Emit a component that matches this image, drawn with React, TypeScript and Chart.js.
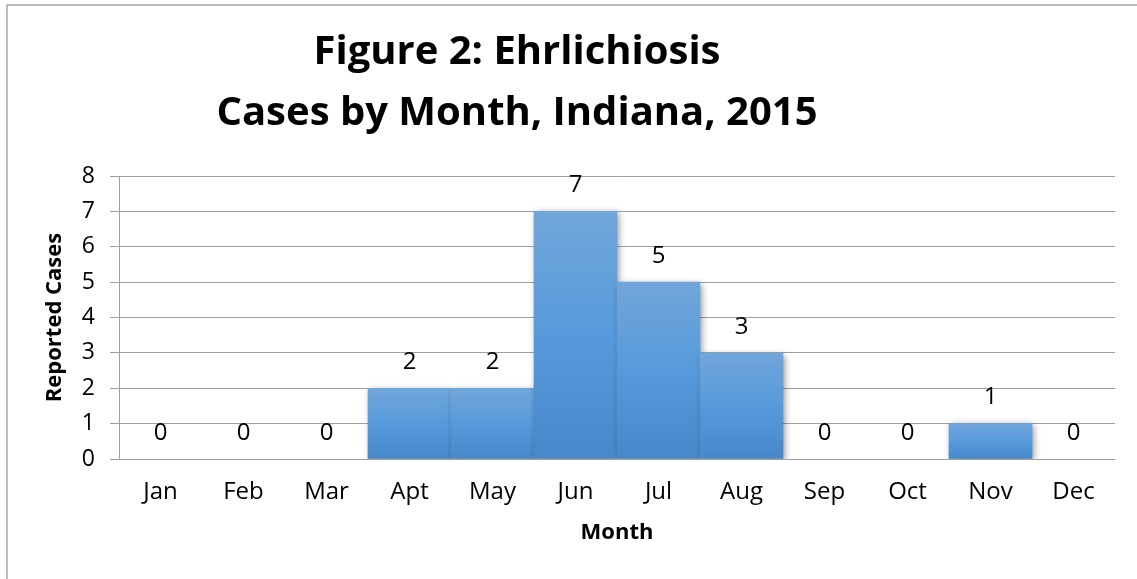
import React, { useEffect, useRef } from 'react';
import { Chart, registerables } from 'chart.js';

Chart.register(...registerables);

const months = ['Jan', 'Feb', 'Mar', 'Apt', 'May', 'Jun', 'Jul', 'Aug', 'Sep', 'Oct', 'Nov', 'Dec'];
const cases = [0, 0, 0, 2, 2, 7, 5, 3, 0, 0, 1, 0];
const yMin = 0;
const yMax = 8;
const yStep = 1;
const titleLines = ['Figure 2: Ehrlichiosis', 'Cases by Month, Indiana, 2015'];
const xTitle = 'Month';
const yTitle = 'Reported Cases';

const FONT = "'Open Sans', sans-serif";
const W = 1137;
const H = 579;

const framePlugin = {
  id: 'frame',
  beforeDraw(chart: any) {
    const { ctx } = chart;
    ctx.save();
    ctx.fillStyle = '#ffffff';
    ctx.fillRect(0, 0, chart.width, chart.height);
    ctx.strokeStyle = '#a6a6a6';
    ctx.lineWidth = 1.5;
    ctx.strokeRect(7, 5, chart.width + 50, chart.height + 50);
    ctx.restore();
  },
};

const titlePlugin = {
  id: 'customTitle',
  afterDraw(chart: any) {
    const { ctx } = chart;
    ctx.save();
    ctx.fillStyle = '#000000';
    ctx.font = `bold 40px ${FONT}`;
    ctx.textAlign = 'center';
    ctx.textBaseline = 'alphabetic';
    ctx.fillText(titleLines[0], 517, 64);
    ctx.fillText(titleLines[1], 517, 125);
    ctx.restore();
  },
};

const shadowPlugin = {
  id: 'barShadow',
  beforeDatasetsDraw(chart: any) {
    const { ctx } = chart;
    ctx.save();
    ctx.shadowColor = 'rgba(0,0,0,0.45)';
    ctx.shadowBlur = 7;
    ctx.shadowOffsetX = 2;
    ctx.shadowOffsetY = 2;
  },
  afterDatasetsDraw(chart: any) {
    chart.ctx.restore();
  },
};

const valueLabelPlugin = {
  id: 'valueLabels',
  afterDraw(chart: any) {
    const { ctx } = chart;
    const meta = chart.getDatasetMeta(0);
    ctx.save();
    ctx.fillStyle = '#000000';
    ctx.font = `24px ${FONT}`;
    ctx.textAlign = 'center';
    ctx.textBaseline = 'middle';
    meta.data.forEach((bar: any, i: number) => {
      ctx.fillText(String(cases[i]), bar.x, bar.y - 26);
    });
    ctx.restore();
  },
};

export default function App() {
  const canvasRef = useRef<HTMLCanvasElement | null>(null);

  useEffect(() => {
    if (!canvasRef.current) return;
    const chart = new Chart(canvasRef.current, {
      type: 'bar',
      data: {
        labels: months,
        datasets: [
          {
            label: yTitle,
            data: cases,
            categoryPercentage: 1,
            barPercentage: 1,
            borderWidth: 0,
            backgroundColor: (c: any) => {
              const ch = c.chart;
              if (!ch.chartArea || c.type !== 'data') return '#5b9bd5';
              const v = c.raw as number;
              if (!v) return 'rgba(0,0,0,0)';
              const top = ch.scales.y.getPixelForValue(v);
              const base = ch.scales.y.getPixelForValue(0);
              const g = ch.ctx.createLinearGradient(0, top, 0, base);
              g.addColorStop(0, '#71a6da');
              g.addColorStop(0.5, '#579adb');
              g.addColorStop(1, '#4688c9');
              return g;
            },
          },
        ],
      },
      options: {
        animation: false,
        responsive: true,
        maintainAspectRatio: false,
        layout: { padding: { left: 0, right: 22, top: 176, bottom: 0 } },
        plugins: {
          legend: { display: false },
          title: { display: false },
          tooltip: { enabled: false },
        },
        scales: {
          x: {
            grid: { display: false, drawTicks: false },
            border: { display: false },
            ticks: {
              color: '#000000',
              font: { family: FONT, size: 24 },
              padding: 19,
              maxRotation: 0,
            },
            title: {
              display: true,
              text: xTitle,
              color: '#000000',
              font: { family: FONT, size: 22, weight: 'bold' },
              padding: { top: 0, bottom: 33 },
            },
            afterFit(scale: any) {
              scale.height = 120;
            },
          },
          y: {
            min: yMin,
            max: yMax,
            grid: { color: '#a0a0a0', lineWidth: 1, tickLength: 9, drawTicks: true },
            border: { display: true, color: '#a0a0a0', width: 1 },
            ticks: {
              stepSize: yStep,
              color: '#000000',
              font: { family: FONT, size: 23 },
              padding: 15,
            },
            title: {
              display: true,
              text: yTitle,
              color: '#000000',
              font: { family: FONT, size: 22, weight: 'bold' },
              padding: { top: 42, bottom: 0 },
            },
            afterFit(scale: any) {
              scale.width = 119;
            },
          },
        },
      },
      plugins: [framePlugin, shadowPlugin, titlePlugin, valueLabelPlugin],
    });
    return () => chart.destroy();
  }, []);

  return (
    <div style={{ position: 'absolute', left: 0, top: 0, width: W, height: H }}>
      <canvas ref={canvasRef} />
    </div>
  );
}
